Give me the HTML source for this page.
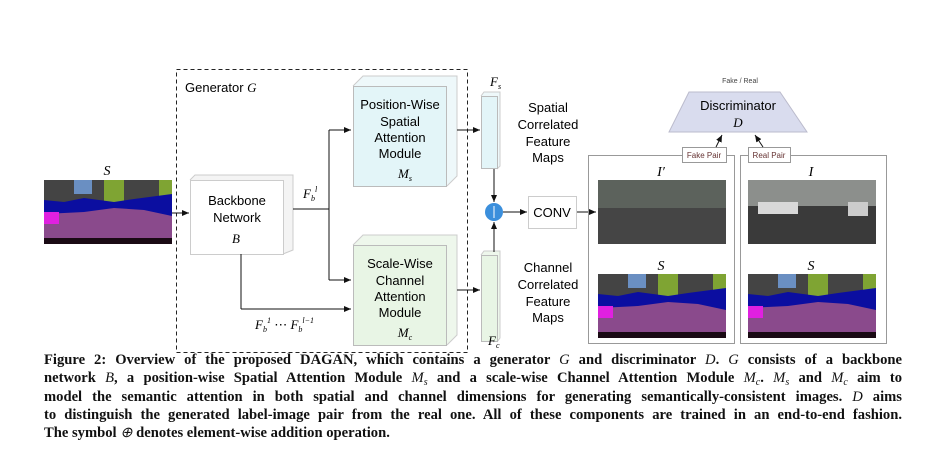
<!DOCTYPE html>
<html><head><meta charset="utf-8"><style>
body{margin:0;background:#fff;width:944px;height:455px;overflow:hidden;position:relative;font-family:"Liberation Sans",sans-serif}
.cap{position:absolute;left:44px;top:351px;width:858px;font-family:"Liberation Serif",serif;font-weight:bold;font-size:14.6px;line-height:18.3px;color:#111}
.cap div{text-align:justify;text-align-last:justify;white-space:nowrap;height:18.3px}
.cap div.l{text-align-last:left}
.cap i{font-style:italic;font-weight:normal}
.cap sub{font-size:10px;line-height:0;vertical-align:-3px}
</style></head><body>
<svg width="944" height="455" style="position:absolute;left:0;top:0" font-family="Liberation Sans, sans-serif">
<defs>
<marker id="a" markerWidth="8" markerHeight="8" refX="7" refY="4" orient="auto" markerUnits="userSpaceOnUse"><path d="M0,1 L7,4 L0,7z" fill="#111"/></marker>
<g id="seg">
<rect width="128" height="64" fill="#444"/>
<rect x="30" y="0" width="18" height="14" fill="#6a8fc2"/>
<rect x="60" y="0" width="20" height="22" fill="#7fa433"/>
<rect x="115" y="0" width="13" height="30" fill="#7fa433"/>
<path d="M0,20 L20,22 L40,18 L70,22 L90,19 L128,14 L128,40 L0,42z" fill="#0b0ea0"/>
<path d="M0,34 L40,32 L70,28 L100,30 L128,36 L128,58 L0,60z" fill="#8a4a8c"/>
<rect x="0" y="32" width="15" height="12" fill="#e020e0"/>
<rect x="0" y="58" width="128" height="6" fill="#1a0a14"/>
</g>
<g id="ph"><rect width="128" height="64" fill="#3a3d3a"/><rect width="128" height="28" fill="#5c625c"/><rect y="28" width="128" height="36" fill="#454545"/></g>
</defs>
<rect x="176.5" y="69.5" width="291" height="283" fill="none" stroke="#222" stroke-dasharray="4,3"/>
<text x="185" y="92" font-size="13">Generator <tspan font-family="Liberation Serif" font-style="italic">G</tspan></text>
<text x="107" y="175" font-size="14" font-family="Liberation Serif" font-style="italic" text-anchor="middle">S</text>
<use href="#seg" x="44" y="180"/>
<line x1="172" y1="213" x2="189" y2="213" stroke="#111" marker-end="url(#a)"/>
<path d="M190,180 L195,175 L293,175 L293,250 L283,254" fill="#f4f4f4" stroke="#ccc"/>
<rect x="190.5" y="180.5" width="93" height="74" fill="#fff" stroke="#ccc"/>
<text x="237" y="205" font-size="13" text-anchor="middle">Backbone</text>
<text x="237" y="222" font-size="13" text-anchor="middle">Network</text>
<text x="236" y="243" font-size="13" font-family="Liberation Serif" font-style="italic" text-anchor="middle">B</text>
<path d="M293,209 L329,209 M329,130 L329,280" stroke="#111" fill="none"/>
<line x1="329" y1="130" x2="351" y2="130" stroke="#111" marker-end="url(#a)"/>
<line x1="329" y1="280" x2="351" y2="280" stroke="#111" marker-end="url(#a)"/>
<path d="M241,254 L241,309" stroke="#111"/>
<line x1="241" y1="309" x2="351" y2="309" stroke="#111" marker-end="url(#a)"/>
<text x="303" y="198" font-size="13" font-family="Liberation Serif" font-style="italic">F<tspan font-size="8" dy="3">b</tspan><tspan font-size="8" dy="-9">l</tspan></text>
<text x="255" y="329" font-size="13" font-family="Liberation Serif" font-style="italic">F<tspan font-size="8" dy="3">b</tspan><tspan font-size="8" dy="-9">1</tspan><tspan dy="6" font-style="normal"> ⋯ </tspan>F<tspan font-size="8" dy="3">b</tspan><tspan font-size="8" dy="-9">l−1</tspan></text>
<path d="M353,86 L363,76 L457,76 L457,176 L447,186" fill="#eef8fa" stroke="#ccc"/>
<rect x="353.5" y="86.5" width="93" height="100" fill="#e3f5f8" stroke="#bbb"/>
<text font-size="13" text-anchor="middle"><tspan x="400" y="109">Position-Wise</tspan><tspan x="400" y="126">Spatial</tspan><tspan x="400" y="142">Attention</tspan><tspan x="400" y="158">Module</tspan></text>
<text x="405" y="178" font-size="13" font-family="Liberation Serif" font-style="italic" text-anchor="middle">M<tspan font-size="8" dy="3">s</tspan></text>
<path d="M353,245 L363,235 L457,235 L457,335 L447,345" fill="#eef7ec" stroke="#ccc"/>
<rect x="353.5" y="245.5" width="93" height="100" fill="#e8f5e5" stroke="#bbb"/>
<text font-size="13" text-anchor="middle"><tspan x="400" y="268">Scale-Wise</tspan><tspan x="400" y="285">Channel</tspan><tspan x="400" y="301">Attention</tspan><tspan x="400" y="317">Module</tspan></text>
<text x="405" y="337" font-size="13" font-family="Liberation Serif" font-style="italic" text-anchor="middle">M<tspan font-size="8" dy="3">c</tspan></text>
<line x1="457" y1="130" x2="480" y2="130" stroke="#111" marker-end="url(#a)"/>
<line x1="457" y1="290" x2="480" y2="290" stroke="#111" marker-end="url(#a)"/>
<text x="490" y="86" font-size="13" font-family="Liberation Serif" font-style="italic">F<tspan font-size="8" dy="3">s</tspan></text>
<path d="M481,96 L484,92 L500,92 L500,166 L497,169" fill="#eef8fa" stroke="#ccc"/>
<rect x="481.5" y="96.5" width="16" height="72" fill="#e3f5f8" stroke="#bbb"/>
<path d="M481,255 L484,251 L500,251 L500,338 L497,342" fill="#eef7ec" stroke="#ccc"/>
<rect x="481.5" y="255.5" width="16" height="86" fill="#e8f5e5" stroke="#bbb"/>
<text x="488" y="345" font-size="13" font-family="Liberation Serif" font-style="italic">F<tspan font-size="8" dy="3">c</tspan></text>
<line x1="494" y1="169" x2="494" y2="202" stroke="#111" marker-end="url(#a)"/>
<line x1="494" y1="252" x2="494" y2="222" stroke="#111" marker-end="url(#a)"/>
<circle cx="494" cy="212" r="9" fill="#3b8fdc"/>
<line x1="494" y1="206" x2="494" y2="218" stroke="#fff"/>
<line x1="503" y1="212" x2="527" y2="212" stroke="#111" marker-end="url(#a)"/>
<rect x="528.5" y="196.5" width="48" height="32" fill="#fff" stroke="#ccc"/>
<text x="552" y="217" font-size="13" text-anchor="middle">CONV</text>
<line x1="577" y1="212" x2="596" y2="212" stroke="#111" marker-end="url(#a)"/>
<text font-size="13" text-anchor="middle"><tspan x="548" y="112">Spatial</tspan><tspan x="548" y="129">Correlated</tspan><tspan x="548" y="146">Feature</tspan><tspan x="548" y="162">Maps</tspan></text>
<text font-size="13" text-anchor="middle"><tspan x="548" y="272">Channel</tspan><tspan x="548" y="289">Correlated</tspan><tspan x="548" y="306">Feature</tspan><tspan x="548" y="322">Maps</tspan></text>
<rect x="588.5" y="155.5" width="146" height="188" fill="none" stroke="#999"/>
<rect x="740.5" y="155.5" width="146" height="188" fill="none" stroke="#999"/>
<rect x="682.5" y="147.5" width="44" height="15" fill="#fff" stroke="#999"/>
<text x="704" y="158" font-size="8" text-anchor="middle" fill="#633">Fake Pair</text>
<rect x="748.5" y="147.5" width="42" height="15" fill="#fff" stroke="#999"/>
<text x="769" y="158" font-size="8" text-anchor="middle" fill="#633">Real Pair</text>
<text x="661" y="176" font-size="14" font-family="Liberation Serif" font-style="italic" text-anchor="middle">I′</text>
<text x="811" y="176" font-size="14" font-family="Liberation Serif" font-style="italic" text-anchor="middle">I</text>
<use href="#ph" x="598" y="180"/>
<g transform="translate(748,180)"><rect width="128" height="64" fill="#3a3a3a"/><rect width="128" height="26" fill="#8c8f8c"/><rect x="10" y="22" width="40" height="12" fill="#d8d8d8"/><rect x="100" y="22" width="20" height="14" fill="#ccc"/></g>
<text x="661" y="270" font-size="14" font-family="Liberation Serif" font-style="italic" text-anchor="middle">S</text>
<text x="811" y="270" font-size="14" font-family="Liberation Serif" font-style="italic" text-anchor="middle">S</text>
<use href="#seg" x="598" y="274"/>
<use href="#seg" x="748" y="274"/>
<text x="740" y="83" font-size="7" text-anchor="middle" fill="#444">Fake / Real</text>
<path d="M689,92 L780,92 L807,132 L669,132z" fill="#d9dcee" stroke="#bbc"/>
<text x="738" y="110" font-size="13" text-anchor="middle">Discriminator</text>
<text x="738" y="127" font-size="13" font-family="Liberation Serif" font-style="italic" text-anchor="middle">D</text>
<line x1="716" y1="147" x2="722" y2="135" stroke="#111" marker-end="url(#a)"/>
<line x1="763" y1="147" x2="755" y2="135" stroke="#111" marker-end="url(#a)"/>
</svg>
<div class="cap">
<div>Figure 2: Overview of the proposed DAGAN, which contains a generator <i>G</i> and discriminator <i>D</i>. <i>G</i> consists of a backbone</div>
<div>network <i>B</i>, a position-wise Spatial Attention Module <i>M<sub>s</sub></i> and a scale-wise Channel Attention Module <i>M<sub>c</sub></i>. <i>M<sub>s</sub></i> and <i>M<sub>c</sub></i> aim to</div>
<div>model the semantic attention in both spatial and channel dimensions for generating semantically-consistent images. <i>D</i> aims</div>
<div>to distinguish the generated label-image pair from the real one. All of these components are trained in an end-to-end fashion.</div>
<div class="l">The symbol <i>⊕</i> denotes element-wise addition operation.</div>
</div>
</body></html>
